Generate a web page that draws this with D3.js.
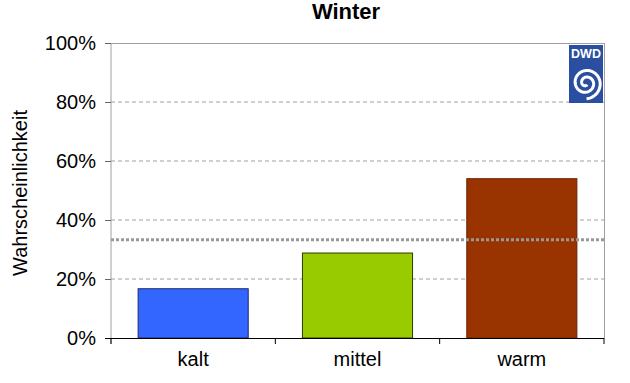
<!DOCTYPE html>
<html><head><meta charset="utf-8">
<script src="https://cdn.jsdelivr.net/npm/d3@7"></script>
<style>body{margin:0;background:#fff}text{font-family:"Liberation Sans",Arial,sans-serif}</style>
</head><body><svg id="c" width="630" height="383"></svg>
<script>
const categories = ["kalt","mittel","warm"];
const values = [16.7, 28.8, 54.0];
const colors = ["#3366FF","#99CC00","#993300"];
const strokes = ["#1a2a6c","#2b3a00","#6b2200"];
const yTicks = [0,20,40,60,80,100];
const climatology = 33.3;

const svg = d3.select("#c");
const m = {l:111, r:604, t:43, b:338};
const x = d3.scaleBand().domain(categories).range([m.l, m.r]).paddingInner(0.33).paddingOuter(0.165);
const y = d3.scaleLinear().domain([0,100]).range([m.b, m.t]);

// gridlines
svg.append("g").selectAll("line").data(yTicks.filter(d=>d>0&&d<100)).join("line")
  .attr("x1", m.l).attr("x2", m.r).attr("y1", d=>y(d)).attr("y2", d=>y(d))
  .attr("stroke","#a0a0a0").attr("stroke-dasharray","4,3").attr("stroke-width",1);
// frame top/right
svg.append("line").attr("x1",m.l).attr("x2",m.r).attr("y1",m.t+0.5).attr("y2",m.t+0.5).attr("stroke","#a0a0a0");
svg.append("line").attr("x1",m.r+0.5).attr("x2",m.r+0.5).attr("y1",m.t).attr("y2",m.b).attr("stroke","#a0a0a0");

// bars
svg.append("g").selectAll("rect").data(values).join("rect")
  .attr("x",(d,i)=>x(categories[i])).attr("width",x.bandwidth())
  .attr("y",d=>y(d)).attr("height",d=>y(0)-y(d))
  .attr("fill",(d,i)=>colors[i]).attr("stroke",(d,i)=>strokes[i]).attr("stroke-width",1);

// climatology line
svg.append("line").attr("x1",m.l).attr("x2",m.r).attr("y1",y(climatology)).attr("y2",y(climatology))
  .attr("stroke","#999").attr("stroke-width",3).attr("stroke-dasharray","3,2");

// y axis
const ya = svg.append("g").attr("transform",`translate(${m.l},0)`)
  .call(d3.axisLeft(y).tickValues(yTicks).tickFormat(d=>d+"%").tickSize(6).tickPadding(9));
ya.select(".domain").attr("stroke","#a0a0a0").attr("d",`M0,${m.t}V${m.b+6}`);
ya.selectAll(".tick line").attr("stroke","#666");
ya.selectAll("text").attr("font-size",20).attr("fill","#000").attr("font-family","Liberation Sans, Arial, sans-serif");

// x axis
const xa = svg.append("g").attr("transform",`translate(0,${m.b})`);
xa.append("line").attr("x1",m.l-6).attr("x2",m.r).attr("y1",0.5).attr("y2",0.5).attr("stroke","#000");
const bounds = d3.range(4).map(i=>m.l + i*(m.r-m.l)/3);
xa.selectAll("line.t").data(bounds).join("line").attr("class","t")
  .attr("x1",d=>d).attr("x2",d=>d).attr("y1",0).attr("y2",6).attr("stroke","#000");
xa.selectAll("text").data(categories).join("text")
  .attr("x",d=>x(d)+x.bandwidth()/2).attr("y",28).attr("text-anchor","middle")
  .attr("font-size",20).attr("fill","#000").text(d=>d);

// title
svg.append("text").attr("x",346).attr("y",19).attr("text-anchor","middle")
  .attr("font-size",22).attr("font-weight","bold").text("Winter");
// y label
svg.append("text").attr("transform","translate(27,193) rotate(-90)").attr("text-anchor","middle")
  .attr("font-size",20).text("Wahrscheinlichkeit");

// DWD logo
const lg = svg.append("g").attr("transform","translate(569,45)");
lg.append("rect").attr("width",34).attr("height",58).attr("fill","#2a4fa0");
lg.append("text").attr("x",17).attr("y",13).attr("text-anchor","middle").attr("font-size",12.5)
  .attr("font-weight","bold").attr("fill","#fff").text("DWD");
// spiral
const pts = [];
for(let t=0;t<=Math.PI*4.2;t+=0.1){const r=2+ t*1.05; pts.push([17+r*Math.cos(t+1.0), 38+r*Math.sin(t+1.0)]);}
lg.append("path").attr("d",d3.line()(pts)).attr("fill","none").attr("stroke","#fff").attr("stroke-width",3);
</script></body></html>
